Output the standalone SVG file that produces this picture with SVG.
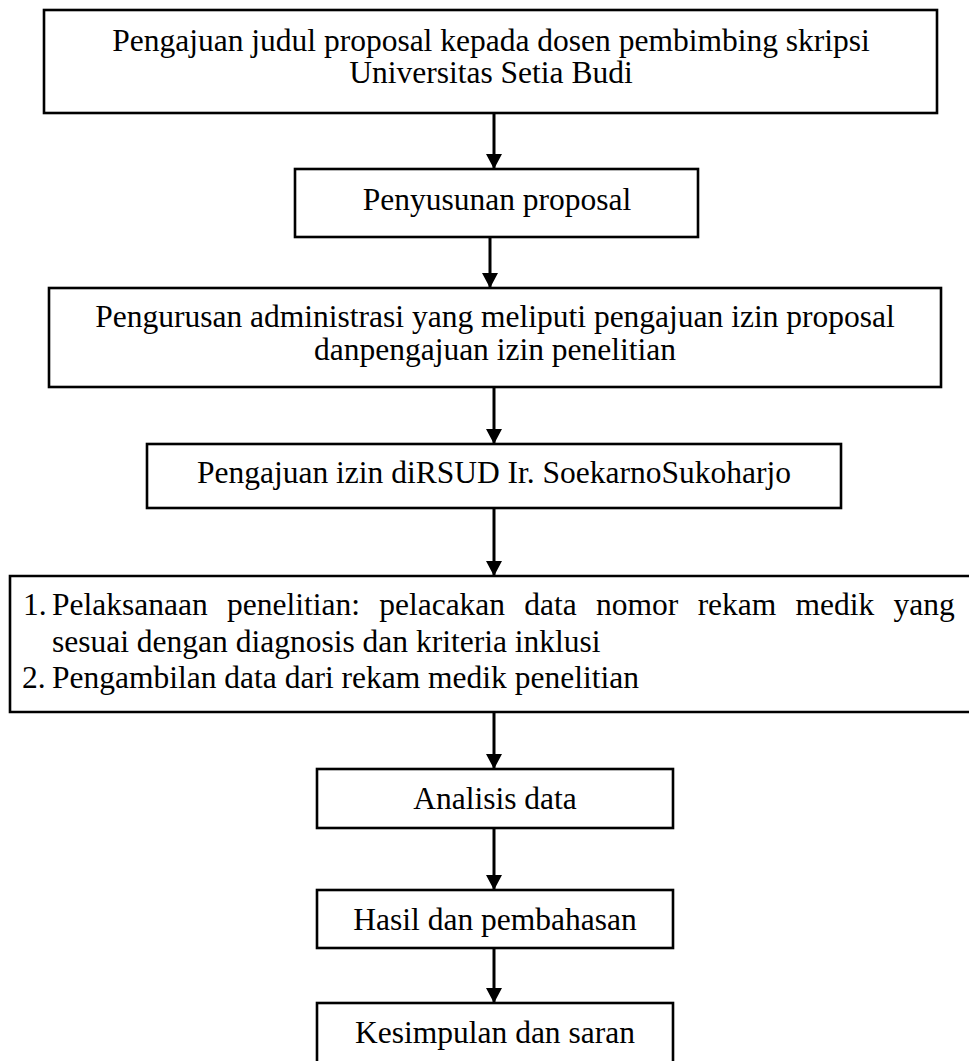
<svg xmlns="http://www.w3.org/2000/svg" width="969" height="1061" viewBox="0 0 969 1061">
<style>
.box{fill:#fff;stroke:#000;stroke-width:2.6}
.t{font-family:"Liberation Serif","Times New Roman",serif;font-size:31.5px;fill:#000}
.c{text-anchor:middle}
.conn{stroke:#000;stroke-width:3;fill:none}
</style>
<defs>
<marker id="ah" markerUnits="userSpaceOnUse" markerWidth="16" markerHeight="16" refX="15" refY="8" orient="auto">
<path d="M0,0 L15,8 L0,16 Z" fill="#000"/>
</marker>
</defs>
<rect width="969" height="1061" fill="#fff"/>
<g id="connectors">
<line class="conn" x1="494" y1="113" x2="494" y2="169" marker-end="url(#ah)"/>
<line class="conn" x1="490" y1="237" x2="490" y2="288" marker-end="url(#ah)"/>
<line class="conn" x1="494" y1="387" x2="494" y2="444" marker-end="url(#ah)"/>
<line class="conn" x1="494" y1="508" x2="494" y2="576" marker-end="url(#ah)"/>
<line class="conn" x1="494" y1="712" x2="494" y2="769" marker-end="url(#ah)"/>
<line class="conn" x1="494" y1="828" x2="494" y2="890" marker-end="url(#ah)"/>
<line class="conn" x1="494" y1="948" x2="494" y2="1003" marker-end="url(#ah)"/>
</g>
<g id="n1">
<rect class="box" x="44" y="10" width="893" height="103"/>
<text class="t c" x="491" y="51">Pengajuan judul proposal kepada dosen pembimbing skripsi</text>
<text class="t c" x="491" y="83">Universitas Setia Budi</text>
</g>
<g id="n2">
<rect class="box" x="295" y="169" width="403" height="68"/>
<text class="t c" x="497" y="210">Penyusunan proposal</text>
</g>
<g id="n3">
<rect class="box" x="49" y="288" width="892" height="99"/>
<text class="t c" x="495" y="327">Pengurusan administrasi yang meliputi pengajuan izin proposal</text>
<text class="t c" x="495" y="360">danpengajuan izin penelitian</text>
</g>
<g id="n4">
<rect class="box" x="147" y="444" width="694" height="64"/>
<text class="t c" x="494" y="483">Pengajuan izin diRSUD Ir. SoekarnoSukoharjo</text>
</g>
<g id="n5">
<path class="box" d="M975,576 H10 V712 H975"/>
<text class="t" x="23" y="615">1.</text>
<text class="t" x="52" y="615" word-spacing="11.4">Pelaksanaan penelitian: pelacakan data nomor rekam medik yang</text>
<text class="t" x="52" y="652">sesuai dengan diagnosis dan kriteria inklusi</text>
<text class="t" x="22" y="688">2.</text>
<text class="t" x="52" y="688">Pengambilan data dari rekam medik penelitian</text>
</g>
<g id="n6">
<rect class="box" x="317" y="769" width="356" height="59"/>
<text class="t c" x="495" y="809">Analisis data</text>
</g>
<g id="n7">
<rect class="box" x="317" y="890" width="356" height="58"/>
<text class="t c" x="495" y="930">Hasil dan pembahasan</text>
</g>
<g id="n8">
<rect class="box" x="317" y="1003" width="356" height="70"/>
<text class="t c" x="495" y="1043">Kesimpulan dan saran</text>
</g>
</svg>
